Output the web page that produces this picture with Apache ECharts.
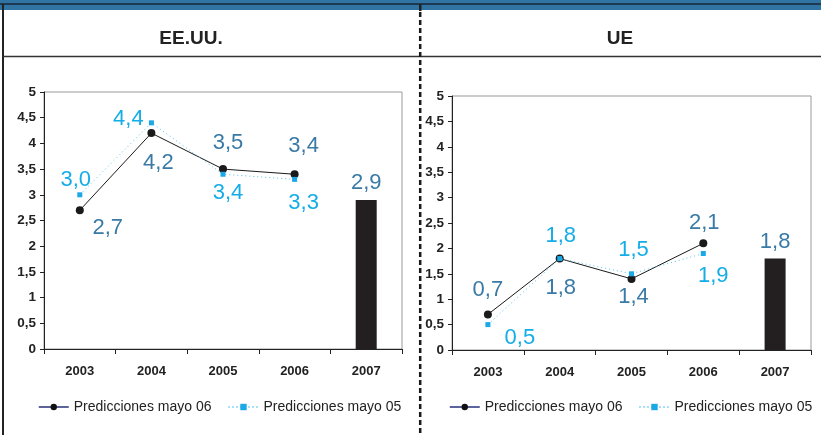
<!DOCTYPE html>
<html>
<head>
<meta charset="utf-8">
<script src="https://cdn.jsdelivr.net/npm/echarts@6/dist/echarts.min.js"></script>
<style>
html,body{margin:0;padding:0;background:#fff;}
#c{width:821px;height:435px;}
</style>
</head>
<body>
<div id="c"></div>
<script>
// ---- data ----
var categories = ['2003', '2004', '2005', '2006', '2007'];
var yTicks = [0, 0.5, 1, 1.5, 2, 2.5, 3, 3.5, 4, 4.5, 5];
var titles = ['EE.UU.', 'UE'];
var seriesNames = ['Predicciones mayo 06', 'Predicciones mayo 05'];

var usMay06 = [2.7, 4.2, 3.5, 3.4, null];
var usMay05 = [3.0, 4.4, 3.4, 3.3, null];
var us2007  = [null, null, null, null, 2.9];

var euMay06 = [0.7, 1.8, 1.4, 2.1, null];
var euMay05 = [0.5, 1.8, 1.5, 1.9, null];
var eu2007  = [null, null, null, null, 1.8];

// ---- label placement (offsets from the point, px) ----
var usMay06Off = [[28, 18], [7, 30], [5, -26], [9, -28]];
var usMay05Off = [[-4, -15], [-23, -4], [5, 19], [9, 24]];
var euMay06Off = [[0, -25], [1, 29], [2, 18], [1, -20]];
var euMay05Off = [[32, 13], [1, -23], [2, -24], [10, 22]];

var FONT = "'Liberation Sans', Arial, Helvetica, sans-serif";
var C_DARK = '#3a7aa6';
var C_CYAN = '#14ade8';

function fmt(v) { return String(v.toFixed(1)).replace('.', ','); }
function fmtTick(v) { return String(v).replace('.', ','); }

function withLabels(values, offsets, color) {
  return values.map(function (v, i) {
    if (v == null) return null;
    return {
      value: v,
      label: {
        show: true, position: 'inside', offset: offsets[i],
        color: color, fontSize: 22, fontFamily: FONT,
        formatter: function (p) { return fmt(p.value); }
      }
    };
  });
}

function axes(idx) {
  return {
    x: {
      type: 'category', gridIndex: idx, data: categories,
      boundaryGap: true,
      axisLine: { lineStyle: { color: '#222', width: 1 } },
      axisTick: { show: true, interval: 0, length: 5, alignWithLabel: false, lineStyle: { color: '#222' } },
      axisLabel: { color: '#222', fontWeight: 'bold', fontSize: 13, fontFamily: FONT, margin: 16, interval: 0 },
      splitLine: { show: false }
    },
    y: {
      type: 'value', gridIndex: idx, min: yTicks[0], max: yTicks[yTicks.length - 1],
      interval: yTicks[1] - yTicks[0],
      axisLine: { show: true, lineStyle: { color: '#222', width: 1 } },
      axisTick: { show: true, length: 4, lineStyle: { color: '#222' } },
      axisLabel: { color: '#222', fontWeight: 'bold', fontSize: 13.5, fontFamily: FONT, margin: 8, formatter: fmtTick },
      splitLine: { show: false }
    }
  };
}

var a0 = axes(0), a1 = axes(1);

function lineSeries(name, idx, data, kind) {
  var s = {
    name: name, type: 'line', xAxisIndex: idx, yAxisIndex: idx, data: data,
    connectNulls: false, animation: false, z: kind === 'a' ? 3 : 4
  };
  if (kind === 'a') {
    s.symbol = 'circle'; s.symbolSize = 8;
    s.itemStyle = { color: '#1a1a1a' };
    s.lineStyle = { color: '#1a1a1a', width: 1 };
  } else {
    s.symbol = 'rect'; s.symbolSize = 5;
    s.itemStyle = { color: '#1aa8e6' };
    s.lineStyle = { color: '#55c3ee', width: 1, type: [1, 3] };
  }
  return s;
}

function barSeries(idx, data) {
  return {
    name: 'bar', type: 'bar', xAxisIndex: idx, yAxisIndex: idx, data: data,
    barWidth: 21, animation: false,
    itemStyle: { color: '#231f20' },
    label: { show: true, position: 'top', distance: 6, color: C_DARK, fontSize: 22, fontFamily: FONT,
             formatter: function (p) { return fmt(p.value); } }
  };
}

function legendFor(left) {
  return {
    left: left, top: 400, width: 400, padding: 0, itemWidth: 30, itemHeight: 8, itemGap: 16,
    textStyle: { color: '#222', fontSize: 14, fontFamily: FONT },
    selectedMode: false,
    data: [
      { name: seriesNames[0], lineStyle: { color: '#26307a', width: 1.5 }, itemStyle: { color: '#111' } },
      { name: seriesNames[1] }
    ]
  };
}

var option = {
  backgroundColor: '#fff',
  animation: false,
  textStyle: { fontFamily: FONT },
  title: [
    { text: titles[0], left: 186, top: 24, textAlign: 'center',
      textStyle: { fontSize: 19, fontWeight: 'bold', color: '#222', fontFamily: FONT } },
    { text: titles[1], left: 615, top: 24, textAlign: 'center',
      textStyle: { fontSize: 19, fontWeight: 'bold', color: '#222', fontFamily: FONT } }
  ],
  grid: [
    { left: 44, right: 419, top: 92, bottom: 86, show: true, borderColor: '#999', borderWidth: 1, backgroundColor: 'transparent' },
    { left: 452, right: 10, top: 96, bottom: 85, show: true, borderColor: '#999', borderWidth: 1, backgroundColor: 'transparent' }
  ],
  xAxis: [a0.x, a1.x],
  yAxis: [a0.y, a1.y],
  legend: [legendFor(38), legendFor(449)],
  series: [
    lineSeries(seriesNames[0], 0, withLabels(usMay06, usMay06Off, C_DARK), 'a'),
    lineSeries(seriesNames[1], 0, withLabels(usMay05, usMay05Off, C_CYAN), 'b'),
    barSeries(0, us2007),
    lineSeries(seriesNames[0], 1, withLabels(euMay06, euMay06Off, C_DARK), 'a'),
    lineSeries(seriesNames[1], 1, withLabels(euMay05, euMay05Off, C_CYAN), 'b'),
    barSeries(1, eu2007)
  ],
  graphic: [
    { type: 'rect', shape: { x: 0, y: 0, width: 821, height: 10 }, style: { fill: '#2f74a3' }, z: 10 },
    { type: 'rect', shape: { x: 0, y: 3, width: 821, height: 2 }, style: { fill: '#1d3a52' }, z: 11 },
    { type: 'line', shape: { x1: 3, y1: 4, x2: 3, y2: 435 }, style: { stroke: '#222', lineWidth: 2 }, z: 11 },
    { type: 'line', shape: { x1: 3, y1: 56.5, x2: 821, y2: 56.5 }, style: { stroke: '#333', lineWidth: 1.5 }, z: 11 },
    { type: 'rect', shape: { x: 419, y: 4, width: 2.5, height: 7 }, style: { fill: '#222' }, z: 12 },
    { type: 'line', shape: { x1: 420.2, y1: 12, x2: 420.2, y2: 435 }, style: { stroke: '#1a1a1a', lineWidth: 2.5, lineDash: [5, 3] }, z: 11 }
  ]
};

var chart = echarts.init(document.getElementById('c'), null, { renderer: 'canvas' });
chart.setOption(option);
</script>
</body>
</html>
